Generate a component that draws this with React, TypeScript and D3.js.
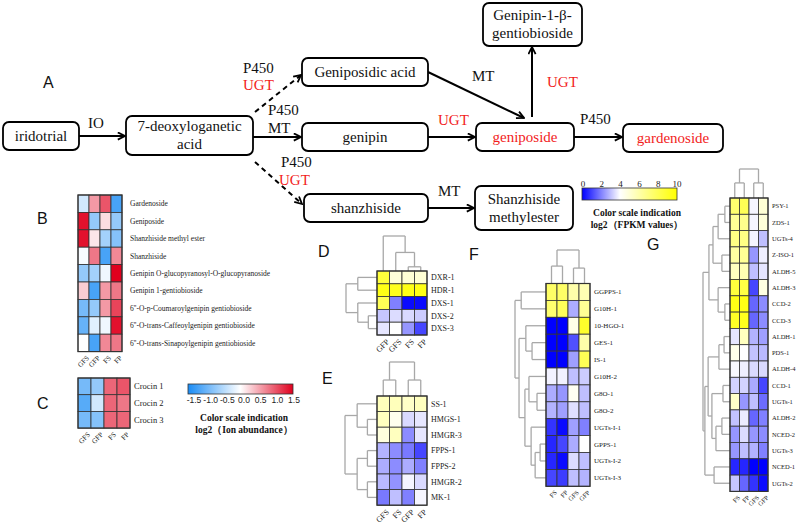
import * as d3 from "d3";

// ---------- data ----------
const ionSamples = ["GFS", "GFP", "FS", "FP"];
const metaboliteNames = [
  "Gardenoside",
  "Geniposide",
  "Shanzhiside methyl ester",
  "Shanzhiside",
  "Genipin O-glucopyranosyl-O-glucopyranoside",
  "Genipin 1-gentiobioside",
  "6''-O-p-Coumaroylgenipin gentiobioside",
  "6''-O-trans-Caffeoylgenipin gentiobioside",
  "6''-O-trans-Sinapoylgenipin gentiobioside",
];
const metaboliteLog2 = [
  [-0.3, 0.6, 1.0, -1.2],
  [1.4, -0.7, 0.2, -0.7],
  [1.4, 0.15, -0.6, -0.8],
  [-0.05, 0.8, -1.2, 0.7],
  [-0.7, -0.6, -0.1, 1.5],
  [0.3, -1.2, 0.6, 0.8],
  [-0.9, -0.7, 0.6, 1.1],
  [-1.0, -0.2, -0.1, 1.4],
  [0.0, -1.2, 0.7, 0.8],
];
const crocinNames = ["Crocin 1", "Crocin 2", "Crocin 3"];
const crocinLog2 = [
  [-0.9, -0.7, 0.9, 1.0],
  [-1.1, -0.3, 0.9, 0.8],
  [-0.9, -0.8, 0.9, 0.9],
];
const ionTicks = [-1.5, -1.0, -0.5, 0.0, 0.5, 1.0, 1.5];

const dSamples = ["GFP", "GFS", "FS", "FP"];
const dGenes = ["DXR-1", "HDR-1", "DXS-1", "DXS-2", "DXS-3"];
const dFpkm = [
  [8.6, 4.9, 5.0, 5.0],
  [9.5, 9.3, 9.5, 9.5],
  [8.0, 2.0, 0.15, 0.15],
  [3.1, 3.45, 3.4, 3.2],
  [3.6, 4.0, 2.35, 1.1],
];
const eSamples = ["GFS", "FS", "GFP", "FP"];
const eGenes = ["SS-1", "HMGS-1", "HMGR-3", "FPPS-1", "FPPS-2", "HMGR-2", "MK-1"];
const eFpkm = [
  [5.6, 5.6, 5.3, 5.5],
  [5.5, 4.4, 3.4, 3.6],
  [4.8, 5.5, 2.2, 3.6],
  [2.8, 2.2, 1.9, 1.1],
  [2.7, 2.2, 2.7, 2.0],
  [2.9, 2.3, 3.85, 3.4],
  [1.9, 3.0, 2.0, 3.85],
];
const fSamples = ["FS", "FP", "GFS", "GFP"];
const fGenes = ["GGPPS-1", "G10H-1", "10-HGO-1", "GES-1", "IS-1", "G10H-2", "G8O-1", "G8O-2", "UGTs-I-1", "GPPS-1", "UGTs-I-2", "UGTs-I-3"];
const fFpkm = [
  [7.6, 7.6, 6.0, 5.8],
  [7.4, 7.9, 2.7, 6.5],
  [0.0, 0.0, 4.6, 9.0],
  [0.0, 0.0, 1.25, 6.0],
  [0.0, 0.0, 2.5, 8.0],
  [3.8, 3.8, 3.0, 3.2],
  [2.7, 2.35, 4.3, 3.0],
  [2.8, 2.5, 3.5, 3.0],
  [0.8, 0.15, 2.5, 2.0],
  [0.6, 1.1, 2.7, 4.0],
  [0.6, 0.15, 3.45, 3.0],
  [1.1, 0.95, 3.0, 2.8],
];
const gSamples = ["FS", "FP", "GFS", "GFP"];
const gGenes = ["PSY-1", "ZDS-1", "UGTs-4", "Z-ISO-1", "ALDH-5", "ALDH-3", "CCD-2", "CCD-3", "ALDH-1", "PDS-1", "ALDH-4", "CCD-1", "UGTs-1", "ALDH-2", "NCED-2", "UGTs-3", "NCED-1", "UGTs-2"];
const gFpkm = [
  [7.4, 8.0, 3.85, 5.0],
  [6.5, 6.7, 3.85, 4.9],
  [6.9, 6.9, 3.85, 3.0],
  [6.2, 6.5, 2.35, 3.75],
  [5.5, 5.8, 3.0, 3.6],
  [8.6, 8.4, 1.1, 4.7],
  [9.5, 9.5, 1.6, 2.2],
  [9.1, 9.3, 1.6, 2.2],
  [3.6, 5.5, 2.8, 2.5],
  [4.5, 4.0, 3.05, 2.9],
  [3.9, 3.75, 3.4, 3.4],
  [3.3, 3.3, 2.65, 1.1],
  [5.3, 2.35, 3.0, 1.7],
  [3.05, 3.7, 1.6, 2.0],
  [2.35, 3.45, 2.35, 2.2],
  [2.35, 3.0, 2.8, 2.0],
  [0.6, 0.6, 0.0, 0.0],
  [3.1, 1.6, 0.8, 0.15],
];
const fpkmTicks = [0, 2, 4, 6, 8, 10];

// dendrograms: leaf = row/col index, node = [left, right, height]
type Tree = number | [Tree, Tree, number];
const dRowTree: Tree = [[0, 1, 0.62], [2, [3, 4, 0.28], 0.62], 1];
const dColTree: Tree = [0, [1, [2, 3, 0.12], 0.53], 1];
const eRowTree: Tree = [[0, [1, 2, 0.3], 0.62], [[3, 4, 0.3], [5, 6, 0.3], 0.62], 1];
const eColTree: Tree = [[0, 1, 0.47], [2, 3, 0.47], 1];
const fRowTree: Tree = [
  [0, 1, 0.8],
  [[2, [3, 4, 0.45], 0.65], [[5, [6, 7, 0.29], 0.55], [8, [[9, 10, 0.19], 11, 0.35], 0.48], 0.68], 0.87],
  1,
];
const fColTree: Tree = [[0, 1, 0.52], [2, 3, 0.46], 1];
const gRowTree: Tree = [
  [[[[0, 1, 0.19], 2, 0.44], [3, 4, 0.3], 0.63], [5, [6, 7, 0.19], 0.44], 0.78],
  [[[[8, 9, 0.22], 10, 0.41], [[11, 12, 0.26], [[13, 14, 0.3], 15, 0.52], 0.67], 0.81], [16, 17, 0.59], 0.93],
  1,
];
const gColTree: Tree = [[0, 1, 0.52], [2, 3, 0.52], 1];

// pathway diagram
const pathNodes = [
  { lines: ["iridotrial"], x: 3, y: 122, w: 76, h: 28, red: false },
  { lines: ["7-deoxyloganetic", "acid"], x: 126, y: 116, w: 127, h: 39, red: false },
  { lines: ["Geniposidic acid"], x: 302, y: 58, w: 126, h: 28, red: false },
  { lines: ["genipin"], x: 302, y: 123, w: 126, h: 28, red: false },
  { lines: ["shanzhiside"], x: 304, y: 194, w: 124, h: 28, red: false },
  { lines: ["Shanzhiside", "methylester"], x: 475, y: 186, w: 98, h: 44, red: false },
  { lines: ["geniposide"], x: 476, y: 123, w: 98, h: 28, red: true },
  { lines: ["gardenoside"], x: 623, y: 124, w: 100, h: 28, red: true },
  { lines: ["Genipin-1-β-", "gentiobioside"], x: 483, y: 3, w: 99, h: 43, red: false },
];
const pathEdges = [
  { x1: 79, y1: 136, x2: 125, y2: 136, dashed: false },
  { x1: 253, y1: 137, x2: 301, y2: 137, dashed: false },
  { x1: 255, y1: 112, x2: 301, y2: 75, dashed: true },
  { x1: 255, y1: 162, x2: 302, y2: 204, dashed: true },
  { x1: 428, y1: 137, x2: 475, y2: 137, dashed: false },
  { x1: 428, y1: 72, x2: 524, y2: 118, dashed: false },
  { x1: 532, y1: 117, x2: 532, y2: 47, dashed: false },
  { x1: 574, y1: 137, x2: 622, y2: 137, dashed: false },
  { x1: 428, y1: 208, x2: 474, y2: 208, dashed: false },
];
const enzymeLabels = [
  { text: "IO", x: 88, y: 128, red: false },
  { text: "P450", x: 243, y: 73, red: false },
  { text: "UGT", x: 243, y: 90, red: true },
  { text: "P450", x: 268, y: 115, red: false },
  { text: "MT", x: 268, y: 133, red: false },
  { text: "P450", x: 281, y: 167, red: false },
  { text: "UGT", x: 279, y: 185, red: true },
  { text: "UGT", x: 438, y: 125, red: true },
  { text: "MT", x: 472, y: 81, red: false },
  { text: "UGT", x: 547, y: 87, red: true },
  { text: "P450", x: 580, y: 124, red: false },
  { text: "MT", x: 438, y: 196, red: false },
];
const panelLetters = [
  { t: "A", x: 43, y: 82 },
  { t: "B", x: 37, y: 218 },
  { t: "C", x: 37, y: 403 },
  { t: "D", x: 318, y: 251 },
  { t: "E", x: 322, y: 378 },
  { t: "F", x: 469, y: 254 },
  { t: "G", x: 647, y: 244 },
];

const SERIF = "'Liberation Serif', 'Times New Roman', serif";
const SANS = "'Liberation Sans', Arial, sans-serif";
const RED = "#f21c1c";

const ionColor = d3.scaleLinear<string>().domain([-1.5, 0, 1.5]).range(["#1a8cf5", "#ffffff", "#e0001e"]).clamp(true);
const fpkmColor = d3.scaleLinear<string>().domain([0, 4, 10]).range(["#0000ff", "#ffffff", "#ffff00"]).clamp(true);

function dendroSegs(tree: Tree, leafPos: (i: number) => number) {
  const segs: number[][] = [];
  const walk = (n: Tree): { p: number; h: number } => {
    if (typeof n === "number") return { p: leafPos(n), h: 0 };
    const l = walk(n[0]);
    const r = walk(n[1]);
    const H = n[2];
    segs.push([l.p, l.h, l.p, H], [r.p, r.h, r.p, H], [l.p, H, r.p, H]);
    return { p: (l.p + r.p) / 2, h: H };
  };
  walk(tree);
  return segs;
}

type HMProps = {
  x: number; y: number; cw: number; ch: number;
  rows: string[]; cols: string[]; values: number[][];
  color: (v: number) => string;
  rowFont: number; colFont: number; rowGap?: number;
  rowTree?: Tree; colTree?: Tree; rowDendroX?: number; colDendroY?: number;
};

function Heatmap(p: HMProps) {
  const xs = d3.scaleBand<number>().domain(d3.range(p.cols.length)).range([p.x, p.x + p.cols.length * p.cw]);
  const ys = d3.scaleBand<number>().domain(d3.range(p.rows.length)).range([p.y, p.y + p.rows.length * p.ch]);
  const right = p.x + p.cols.length * p.cw;
  const bottom = p.y + p.rows.length * p.ch;
  const rowSegs = p.rowTree ? dendroSegs(p.rowTree, (i) => ys(i)! + p.ch / 2) : [];
  const rowH = d3.scaleLinear().domain([0, 1]).range([p.x, p.rowDendroX ?? p.x]);
  const colSegs = p.colTree ? dendroSegs(p.colTree, (i) => xs(i)! + p.cw / 2) : [];
  const colH = d3.scaleLinear().domain([0, 1]).range([p.y, p.colDendroY ?? p.y]);
  return (
    <g>
      {rowSegs.map((s, i) => (
        <line key={"r" + i} x1={rowH(s[1])} y1={s[0]} x2={rowH(s[3])} y2={s[2]} stroke="#a8a8a8" strokeWidth={1.3} />
      ))}
      {colSegs.map((s, i) => (
        <line key={"c" + i} x1={s[0]} y1={colH(s[1])} x2={s[2]} y2={colH(s[3])} stroke="#a8a8a8" strokeWidth={1.3} />
      ))}
      {p.values.map((row, r) =>
        row.map((v, c) => (
          <rect key={r + "-" + c} x={xs(c)} y={ys(r)} width={p.cw} height={p.ch} fill={p.color(v)} stroke="#333" strokeWidth={0.8} />
        ))
      )}
      <rect x={p.x} y={p.y} width={right - p.x} height={bottom - p.y} fill="none" stroke="#333" strokeWidth={1.2} />
      {p.rows.map((r, i) => (
        <text key={r} x={right + (p.rowGap ?? 4)} y={ys(i)! + p.ch / 2} dy="0.35em" fontFamily={SERIF} fontSize={p.rowFont} fill="#222">
          {r}
        </text>
      ))}
      {p.cols.map((c, i) => (
        <text key={c} transform={`translate(${xs(i)! + p.cw / 2 + 3},${bottom + 4}) rotate(-45)`} textAnchor="end" dy="0.6em"
          fontFamily={SERIF} fontSize={p.colFont} fill="#222">
          {c}
        </text>
      ))}
    </g>
  );
}

export default function App() {
  const ionX = d3.scaleLinear().domain([-1.5, 1.5]).range([194, 294]);
  const fpkmX = d3.scaleLinear().domain([0, 10]).range([583, 677]);
  return (
    <svg width={796} height={525} style={{ position: "absolute", left: 0, top: 0, background: "#fff" }}>
      <defs>
        <marker id="arr" viewBox="0 0 10 10" refX={9} refY={5} markerWidth={9} markerHeight={9} markerUnits="userSpaceOnUse" orient="auto">
          <path d="M1,1 L9,5 L1,9" fill="none" stroke="#000" strokeWidth={2} />
        </marker>
        <linearGradient id="ionGrad" x1="0" x2="1" y1="0" y2="0">
          {d3.range(0, 1.001, 0.1).map((t) => (
            <stop key={t} offset={t} stopColor={ionColor(-1.5 + 3 * t)} />
          ))}
        </linearGradient>
        <linearGradient id="fpkmGrad" x1="0" x2="1" y1="0" y2="0">
          {d3.range(0, 1.001, 0.1).map((t) => (
            <stop key={t} offset={t} stopColor={fpkmColor(10 * t)} />
          ))}
        </linearGradient>
      </defs>

      {/* pathway */}
      {pathEdges.map((e, i) => (
        <line key={i} x1={e.x1} y1={e.y1} x2={e.x2} y2={e.y2} stroke="#000" strokeWidth={2}
          strokeDasharray={e.dashed ? "5,4" : undefined} markerEnd="url(#arr)" />
      ))}
      {pathNodes.map((n, i) => (
        <g key={i}>
          <rect x={n.x} y={n.y} width={n.w} height={n.h} rx={6} fill="#fff" stroke="#000" strokeWidth={1.8} />
          {n.lines.map((l, j) => (
            <text key={j} x={n.x + n.w / 2} y={n.y + n.h / 2 + (j - (n.lines.length - 1) / 2) * 18} dy="0.33em"
              textAnchor="middle" fontFamily={SERIF} fontSize={15} fill={n.red ? RED : "#111"}>
              {l}
            </text>
          ))}
        </g>
      ))}
      {enzymeLabels.map((l, i) => (
        <text key={i} x={l.x} y={l.y} fontFamily={SERIF} fontSize={15} fill={l.red ? RED : "#111"}>
          {l.text}
        </text>
      ))}
      {panelLetters.map((l) => (
        <text key={l.t} x={l.x} y={l.y} dy="0.35em" fontFamily={SANS} fontSize={16} fill="#111">
          {l.t}
        </text>
      ))}

      {/* metabolite heatmaps */}
      <Heatmap x={78} y={195} cw={11} ch={17.4} rows={metaboliteNames} cols={ionSamples} values={metaboliteLog2}
        color={ionColor} rowFont={7.5} colFont={7} rowGap={8} />
      <Heatmap x={78} y={378} cw={13} ch={16.7} rows={crocinNames} cols={ionSamples} values={crocinLog2}
        color={ionColor} rowFont={8.5} colFont={7} rowGap={4} />

      {/* ion legend */}
      <rect x={188} y={384} width={105} height={10} fill="url(#ionGrad)" stroke="#333" strokeWidth={0.8} />
      {ionTicks.map((t) => (
        <text key={t} x={ionX(t)} y={403} textAnchor="middle" fontFamily={SANS} fontSize={8.5} fill="#222">
          {t.toFixed(1)}
        </text>
      ))}
      <text x={244} y={421} textAnchor="middle" fontFamily={SERIF} fontWeight="bold" fontSize={9.5} fill="#111">
        Color scale indication
      </text>
      <text x={244} y={433} textAnchor="middle" fontFamily={SERIF} fontWeight="bold" fontSize={9.5} fill="#111">
        log2（Ion abundance）
      </text>

      {/* gene heatmaps */}
      <Heatmap x={377} y={271} cw={12.5} ch={12.8} rows={dGenes} cols={dSamples} values={dFpkm} color={fpkmColor}
        rowFont={8} colFont={8} rowTree={dRowTree} rowDendroX={346} colTree={dColTree} colDendroY={236} />
      <Heatmap x={377} y={396} cw={12.5} ch={15.6} rows={eGenes} cols={eSamples} values={eFpkm} color={fpkmColor}
        rowFont={8} colFont={8} rowTree={eRowTree} rowDendroX={345} colTree={eColTree} colDendroY={362} />
      <Heatmap x={546} y={283.5} cw={11} ch={16.9} rows={fGenes} cols={fSamples} values={fFpkm} color={fpkmColor}
        rowFont={7} colFont={6.5} rowTree={fRowTree} rowDendroX={515} colTree={fColTree} colDendroY={250} />
      <Heatmap x={730} y={198} cw={9.5} ch={16.3} rows={gGenes} cols={gSamples} values={gFpkm} color={fpkmColor}
        rowFont={6.5} colFont={6.5} rowTree={gRowTree} rowDendroX={703} colTree={gColTree} colDendroY={169} />

      {/* fpkm legend */}
      <rect x={582} y={188} width={95} height={12} fill="url(#fpkmGrad)" stroke="#333" strokeWidth={0.8} />
      {fpkmTicks.map((t) => (
        <text key={t} x={fpkmX(t)} y={186.5} textAnchor="middle" fontFamily={SERIF} fontSize={9} fill="#222">
          {t}
        </text>
      ))}
      <text x={637} y={216} textAnchor="middle" fontFamily={SERIF} fontWeight="bold" fontSize={9.5} fill="#111">
        Color scale indication
      </text>
      <text x={637} y={228} textAnchor="middle" fontFamily={SERIF} fontWeight="bold" fontSize={9.5} fill="#111">
        log2（FPKM values）
      </text>
    </svg>
  );
}
